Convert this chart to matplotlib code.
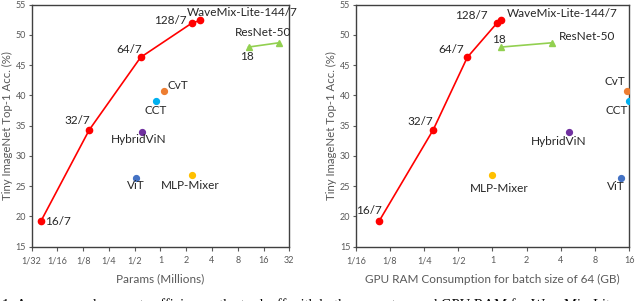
import numpy as np
import matplotlib
matplotlib.use('Agg')
import matplotlib.pyplot as plt

# WaveMix-Lite variants
wm_labels = ['16/7', '32/7', '64/7', '128/7', 'WaveMix-Lite-144/7']
wm_params = [0.040, 0.147, 0.586, 2.35, 2.93]
wm_gpu = [0.100, 0.30, 0.60, 1.10, 1.20]
wm_acc = [19.2, 34.3, 46.3, 52.0, 52.4]

# ResNets
rn_labels = ['18', 'ResNet-50']
rn_params = [10.7, 24.1]
rn_gpu = [1.20, 3.33]
rn_acc = [48.0, 48.7]

# other models
other_names = ['CvT', 'CCT', 'HybridViN', 'ViT', 'MLP-Mixer']
other_params = [1.09, 0.89, 0.61, 0.52, 2.35]
other_gpu = [15.2, 15.9, 4.73, 13.7, 1.0]
other_acc = [40.7, 39.0, 34.0, 26.4, 26.8]
other_colors = ['#ED7D31', '#00B0F0', '#7030A0', '#4472C4', '#FFC000']

left_ticks = ['1/32', '1/16', '1/8', '1/4', '1/2', '1', '2', '4', '8', '16', '32']
right_ticks = ['1/16', '1/8', '1/4', '1/2', '1', '2', '4', '8', '16']

caption = '1: Accuracy and compute efficiency: the tradeoff with both parameters and GPU RAM for WaveMix-Lite'

plt.rcParams['font.family'] = ['Lato', 'DejaVu Sans']

fig = plt.figure(figsize=(6.4, 3.01), dpi=100)
ax1 = fig.add_axes([0.0495, 0.1804, 0.4025, 0.804])
ax2 = fig.add_axes([0.556, 0.1804, 0.427, 0.804])

txt = '#262626'
grey = '#595959'


def draw(ax, wm_x, rn_x, oth_x, ticks, xlabel, wm_off, rn_off, oth_off):
    ax.plot(wm_x, wm_acc, '-o', color='#FF0000', lw=1.2, ms=4.5, clip_on=False, zorder=3)
    ax.plot(rn_x, rn_acc, '-^', color='#92D050', lw=1.2, ms=4.5, clip_on=False, zorder=3)
    for x, y, c in zip(oth_x, other_acc, other_colors):
        ax.plot(x, y, 'o', color=c, ms=4.2, zorder=3)
    for lab, x, y, (dx, dy, ha) in zip(wm_labels, wm_x, wm_acc, wm_off):
        ax.annotate(lab, (x, y), xytext=(dx, dy), textcoords='offset pixels',
                    ha=ha, va='center', fontsize=8.5, color=txt)
    for lab, x, y, (dx, dy, ha) in zip(rn_labels, rn_x, rn_acc, rn_off):
        ax.annotate(lab, (x, y), xytext=(dx, dy), textcoords='offset pixels',
                    ha=ha, va='center', fontsize=8.5, color=txt)
    for lab, x, y, (dx, dy, ha) in zip(other_names, oth_x, other_acc, oth_off):
        ax.annotate(lab, (x, y), xytext=(dx, dy), textcoords='offset pixels',
                    ha=ha, va='center', fontsize=8.5, color=txt)
    ax.set_xscale('log', base=2)
    n = len(ticks)
    lo = -(n // 2)
    tv = [2.0 ** k for k in range(lo, lo + n)]
    ax.set_xlim(tv[0], tv[-1])
    ax.set_xticks(tv)
    ax.set_xticklabels(ticks)
    ax.minorticks_off()
    ax.set_ylim(15, 55)
    ax.set_yticks(range(15, 56, 5))
    ax.tick_params(labelsize=6.5, colors=grey, length=3, width=0.8)
    ax.tick_params(axis='x', pad=4)
    ax.tick_params(axis='y', pad=2, length=2)
    for s in ax.spines.values():
        s.set_color('#404040')
        s.set_linewidth(1.0)
    ax.set_xlabel(xlabel, fontsize=8.5, color=grey, labelpad=6)
    ax.set_ylabel('Tiny ImageNet Top-1 Acc. (%)', fontsize=8.2, color=grey, labelpad=2)


draw(ax1, wm_params, rn_params, other_params, left_ticks, 'Params (Millions)',
     [(4.5, 0, 'left'), (-12, 9, 'center'), (-11, 8, 'center'), (-6, 2, 'right'), (-14, 8, 'left')],
     [(-2, -9, 'center'), (-16, 10, 'center')],
     [(4, 6, 'left'), (0, -9.5, 'center'), (-3, -8, 'center'), (0, -8, 'center'), (-2, -10, 'center')])

draw(ax2, wm_gpu, rn_gpu, other_gpu, right_ticks, 'GPU RAM Consumption for batch size of 64 (GB)',
     [(-10, 11, 'center'), (-13, 8, 'center'), (-16, 8, 'center'), (-9, 7, 'right'), (5, 7, 'left')],
     [(-3, 8, 'center'), (7, 6, 'left')],
     [(-12, 10, 'center'), (-12, -9, 'center'), (-10, -10, 'center'), (-6, -9, 'center'), (7, -13, 'center')])

# caption of the page, cut off by the crop as in the source
fig.text(0.003, 0.008, caption, fontsize=10.5, family=['Liberation Serif', 'DejaVu Serif'],
         color='black', va='top', ha='left')

fig.savefig('out.png', dpi=100)
